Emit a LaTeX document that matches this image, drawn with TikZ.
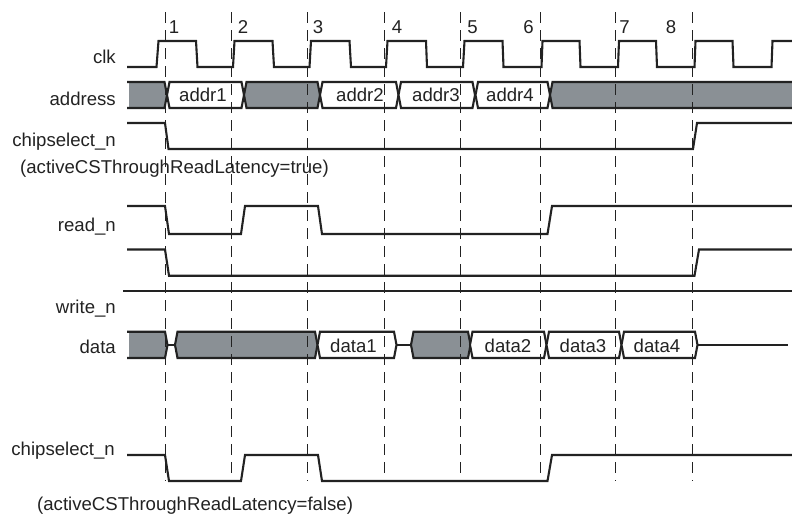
\documentclass[tikz,border=0pt]{standalone}
\usepackage{fontspec}
\setmainfont{Liberation Sans}
\definecolor{busgray}{HTML}{8A9095}
\definecolor{ink}{HTML}{222222}
\tikzset{
  wave/.style={draw=ink,line width=2.1pt,line join=miter},
  guide/.style={draw=ink,line width=1pt,dash pattern=on 11pt off 7pt},
  lbl/.style={font=\fontsize{18.6}{20}\selectfont,text=ink,inner sep=0pt,anchor=base east},
  free/.style={font=\fontsize{18.6}{20}\selectfont,text=ink,inner sep=0pt,anchor=base west},
  num/.style={font=\fontsize{18.6}{20}\selectfont,text=ink,inner sep=0pt,anchor=base},
  celltxt/.style={font=\fontsize{18.6}{20}\selectfont,text=ink,inner sep=0pt,anchor=base}
}
% \buscell{left}{right}{top}{bottom}{fill}: bus cell with pointed ends
\newcommand{\buscell}[5]{%
  \path[wave,fill=#5] (#1,#3) -- (#2,#3) -- ({#2+2.5},{(#3+#4)/2}) -- (#2,#4) -- (#1,#4) -- ({#1-2.5},{(#3+#4)/2}) -- cycle;}
\begin{document}
\begin{tikzpicture}[x=1pt,y=-1pt]
\useasboundingbox (0,0) rectangle (792,515);
% clk
\draw[wave] (127,67) -- (156.5,67) -- (158.5,41) -- (196,41) -- (197.5,67) -- (233,67) -- (234.5,41) -- (272.5,41) -- (274,67) -- (309.5,67) -- (311,41) -- (349.5,41) -- (351,67) -- (386,67) -- (387.5,41) -- (426,41) -- (427,67) -- (463,67) -- (464.5,41) -- (502.5,41) -- (503.5,67) -- (541.5,67) -- (542.5,41) -- (579.5,41) -- (580.5,67) -- (618,67) -- (619,41) -- (656,41) -- (657,67) -- (694.5,67) -- (695.5,41) -- (732.5,41) -- (733.5,67) -- (771.5,67) -- (772.5,41) -- (792,41);
% address bus
\path[fill=busgray] (129,82) -- (164.5,82) -- (167,95) -- (164.5,108) -- (129,108) -- cycle;
\draw[wave] (127,82) -- (164.5,82) -- (167,95) -- (164.5,108) -- (127,108);
\buscell{169.5}{241.5}{82}{108}{white}
\buscell{246.5}{317.5}{82}{108}{busgray}
\buscell{322.5}{396}{82}{108}{white}
\buscell{401}{472.5}{82}{108}{white}
\buscell{478}{547.5}{82}{108}{white}
\path[fill=busgray] (552.5,82) -- (792,82) -- (792,108) -- (552.5,108) -- (550,95) -- cycle;
\draw[wave] (792,82) -- (552.5,82) -- (550,95) -- (552.5,108) -- (792,108);
% chipselect_n (true)
\draw[wave] (127,123) -- (165,123) -- (168.5,149) -- (693,149) -- (697,123) -- (792,123);
% read_n
\draw[wave] (127,206) -- (165,206) -- (169,234) -- (241,234) -- (245,206) -- (318,206) -- (322,234) -- (547.5,234) -- (552,206) -- (792,206);
% second strobe
\draw[wave] (127,249.5) -- (165,249.5) -- (169,275.7) -- (694.5,275.7) -- (699,249.5) -- (792,249.5);
% write_n
\draw[wave] (123,290.7) -- (792,290.7);
% data bus
\path[fill=busgray] (129,331.7) -- (165,331.7) -- (167.5,345) -- (165,358) -- (129,358) -- cycle;
\draw[wave] (127,331.7) -- (165,331.7) -- (167.5,345) -- (165,358) -- (127,358);
\draw[wave] (167.5,345) -- (175,345);
\buscell{177.5}{315}{331.7}{358}{busgray}
\buscell{320}{394}{331.7}{358}{white}
\draw[wave] (396.5,345) -- (411,345);
\buscell{413.5}{468}{331.7}{358}{busgray}
\buscell{472.5}{544}{331.7}{358}{white}
\buscell{549}{619}{331.7}{358}{white}
\buscell{624}{695}{331.7}{358}{white}
\draw[wave] (697.5,345) -- (787.5,345);
% chipselect_n (false)
\draw[wave] (127,455) -- (165,455) -- (169,481) -- (241,481) -- (245,455) -- (318,455) -- (322,481) -- (547.5,481) -- (552,455) -- (792,455);
% guides
\foreach \gx/\gend in {165.5/481,231/481,307.5/481,384.7/481,460.7/481,540.7/481,615.5/481,692.7/481}
  \draw[guide] (\gx,12) -- (\gx,\gend);
% labels
\node[lbl] (lclk) at (116,63.5) {clk};
\node[lbl] (laddr) at (116,105) {address};
\node[lbl] (lcs) at (116,146) {chipselect\_n};
\node[free] (ltrue) at (20,173) {(activeCSThroughReadLatency=true)};
\node[lbl] (lread) at (116,231) {read\_n};
\node[lbl] (lwrite) at (116,313) {write\_n};
\node[lbl] (ldata) at (116,353) {data};
\node[lbl] (lcs2) at (115,455) {chipselect\_n};
\node[free] (lfalse) at (37,510) {(activeCSThroughReadLatency=false)};
% numbers
\node[num] (n1) at (174,33) {1};
\node[num] (n2) at (243,33) {2};
\node[num] (n3) at (318,33) {3};
\node[num] (n4) at (397,33) {4};
\node[num] (n5) at (472.5,33) {5};
\node[num] (n6) at (528.5,33) {6};
\node[num] (n7) at (624.5,33) {7};
\node[num] (n8) at (671,33) {8};
% cell texts
\node[celltxt] (a1) at (203,101) {addr1};
\node[celltxt] (a2) at (360,101) {addr2};
\node[celltxt] (a3) at (436,101) {addr3};
\node[celltxt] (a4) at (510,101) {addr4};
\node[celltxt] (d1) at (353.5,352) {data1};
\node[celltxt] (d2) at (508,352) {data2};
\node[celltxt] (d3) at (583,352) {data3};
\node[celltxt] (d4) at (657,352) {data4};
\end{tikzpicture}
\end{document}
